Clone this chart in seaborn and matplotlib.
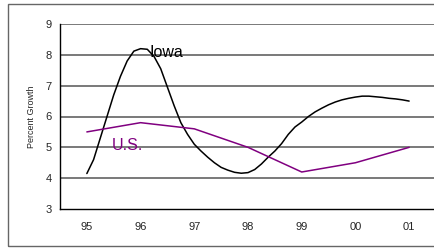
import numpy as np
import pandas as pd
import matplotlib
matplotlib.use("Agg")
import matplotlib.pyplot as plt
import seaborn as sns
from matplotlib.patches import Rectangle

# годы (категории) и значения
years = ["95", "96", "97", "98", "99", "00", "01"]
us_values = [5.5, 5.8, 5.6, 5.0, 4.2, 4.5, 5.0]

iowa_pos = [i / 8 for i in range(49)]
iowa_values = [4.15, 4.6, 5.3, 6.0, 6.7, 7.3, 7.8, 8.12, 8.2, 8.18,
               7.95, 7.55, 6.95, 6.35, 5.8, 5.42, 5.1, 4.88, 4.68, 4.5,
               4.35, 4.26, 4.19, 4.16, 4.18, 4.28, 4.46, 4.68, 4.88, 5.12,
               5.42, 5.66, 5.82, 6.0, 6.15, 6.27, 6.38, 6.47, 6.54, 6.59,
               6.63, 6.66, 6.66, 6.64, 6.62, 6.59, 6.57, 6.54, 6.5]

sns.set_style("white")
plt.rcParams["font.family"] = ["Liberation Sans", "DejaVu Sans"]

fig = plt.figure(figsize=(4.35, 2.48), dpi=100)
ax = fig.add_axes([60 / 435, 39 / 248, 376 / 435, 185 / 248])

# рамка вокруг всего графика
fig.patches.append(Rectangle((8 / 435, 2 / 248), 440 / 435, 242 / 248,
                             transform=fig.transFigure, fill=False,
                             edgecolor="#666666", linewidth=1.0))

df_us = pd.DataFrame({"x": range(len(years)), "y": us_values})
df_iowa = pd.DataFrame({"x": iowa_pos, "y": iowa_values})

sns.lineplot(data=df_iowa, x="x", y="y", color="black", linewidth=1.1, ax=ax)
sns.lineplot(data=df_us, x="x", y="y", color="#800080", linewidth=1.1, ax=ax)

ax.set_xlim(-0.5, 6.5)
ax.set_ylim(3, 9)

# сетка по y
for v in range(4, 10):
    ax.axhline(v, color="#555555", linewidth=1.1, zorder=0)

ax.set_yticks(range(3, 10))
ax.set_yticklabels([str(v) for v in range(3, 10)], fontsize=8)
ax.set_xticks([i - 0.5 for i in range(8)])
ax.set_xticklabels([])
ax.set_xticks(range(len(years)), minor=True)
ax.set_xticklabels(years, minor=True, fontsize=8)
ax.tick_params(axis="x", which="major", direction="out", length=4, width=1, color="black")
ax.tick_params(axis="x", which="minor", length=0, pad=9)
ax.tick_params(axis="y", direction="out", length=4, width=1, color="black", pad=2)

for s in ["top", "right"]:
    ax.spines[s].set_visible(False)
ax.spines["left"].set_color("black")
ax.spines["bottom"].set_color("black")
ax.spines["left"].set_linewidth(1.0)
ax.spines["bottom"].set_linewidth(1.0)

ax.set_xlabel("")
ax.set_ylabel("Percent Growth", fontsize=6.5, labelpad=7)

ax.text(1.157, 7.93, "Iowa", fontsize=11.5, color="black", va="baseline")
ax.text(0.46, 4.91, "U.S.", fontsize=11.5, color="#800080", va="baseline")

fig.savefig("out.png", dpi=100)
